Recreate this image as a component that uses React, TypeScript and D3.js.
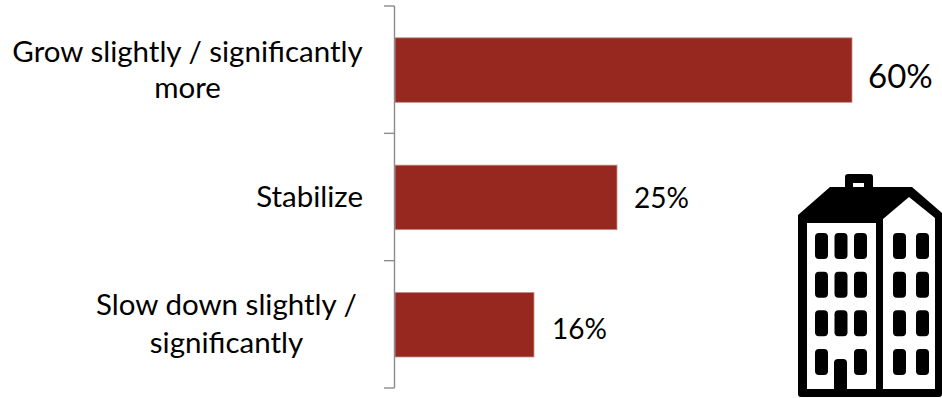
import React from "react";
import * as d3 from "d3";

const categories = ["Grow slightly / significantly|more", "Stabilize", "Slow down slightly /|significantly"];
const shares = [60, 25, 16];
const valueFontSizes = [33, 28, 28];

// Axis stops: the length axis is stretched in its lower range, so it is piecewise.
const lengthStops = [0, 16, 25, 60];
const lengthPixels = [0, 139, 222, 457];

const windowRows = [0, 1, 2, 3];
const leftColumns = [0, 1, 2];
const rightColumns = [0, 1];

const W = 942;
const H = 398;
const axisX = 394.5;
const axisTop = 6;
const axisBottom = 388;
const labelFont = "Lato, Carlito, sans-serif";

function Building() {
  const rowY = d3.scalePoint<number>().domain(windowRows).range([233, 349]);
  const leftX = d3.scalePoint<number>().domain(leftColumns).range([815, 854]);
  const rightX = d3.scalePoint<number>().domain(rightColumns).range([893, 916]);
  return (
    <g>
      <path d="M845 187V177Q845 174 848 174H870Q873 174 873 177V187Z" fill="#000" />
      <rect x={853} y={183} width={11} height={4} fill="#fff" />
      <path d="M830 187H912L942 213V394Q942 397 939 397H801Q798 397 798 394V215Z" fill="#000" />
      <rect x={807} y={223} width={69} height={166} fill="#fff" />
      <path d="M883 219L909 197L935 218V389H883Z" fill="#fff" />
      {windowRows.flatMap((r) =>
        leftColumns
          .filter((c) => !(r === 3 && c === 1))
          .map((c) => (
            <rect key={`l${r}${c}`} x={leftX(c)} y={rowY(r)} width={13} height={26} rx={4} fill="#000" />
          ))
      )}
      {windowRows.flatMap((r) =>
        rightColumns.map((c) => (
          <rect key={`r${r}${c}`} x={rightX(c)} y={rowY(r)} width={13} height={26} rx={4} fill="#000" />
        ))
      )}
      <path d="M834 389V363Q834 359 838 359H843Q847 359 847 363V389Z" fill="#000" />
    </g>
  );
}

export default function App() {
  const band = d3.scaleBand<number>().domain(d3.range(categories.length)).range([axisTop, axisBottom]).padding(0);
  const length = d3.scaleLinear().domain(lengthStops).range(lengthPixels.map((p) => p + 395));
  const barHeight = 64.5;
  const ticks = d3.range(categories.length + 1).map((i) => axisTop + i * band.step());
  const valueDy = [18, 11, 15];
  const valueDx = [16, 17, 18];

  return (
    <svg width={W} height={H} style={{ position: "absolute", left: 0, top: 0, background: "#fff" }}>
      {categories.map((c, i) => {
        const cy = (band(i) as number) + band.bandwidth() / 2;
        const lines = c.split("|");
        return (
          <g key={c}>
            <rect
              x={length(0)}
              y={cy - barHeight / 2 + 0.4}
              width={length(shares[i]) - length(0)}
              height={barHeight}
              fill="#962820"
              stroke="#c08f8b"
              strokeWidth={0.8}
            />
            {lines.map((line, j) => (
              <text
                key={line}
                x={lines.length > 1 ? 187.5 + (i === 2 ? 39 : 0) : 363}
                y={cy + (j - (lines.length - 1) / 2) * (i === 2 ? 38 : 36) + 10}
                textAnchor={lines.length > 1 ? "middle" : "end"}
                fontFamily={labelFont}
                fontSize={29.5}
                fill="#000"
              >
                {line}
              </text>
            ))}
            <text
              x={length(shares[i]) + valueDx[i]}
              y={cy + valueDy[i]}
              fontFamily={labelFont}
              fontSize={valueFontSizes[i]}
              fill="#000"
            >
              {shares[i]}%
            </text>
          </g>
        );
      })}
      <path d={`M${axisX} ${axisTop}V${axisBottom}`} stroke="#8c8c8c" strokeWidth={1.4} fill="none" />
      {ticks.map((y) => (
        <line key={y} x1={384} x2={axisX} y1={y} y2={y} stroke="#8c8c8c" strokeWidth={1.4} />
      ))}
      <Building />
    </svg>
  );
}
